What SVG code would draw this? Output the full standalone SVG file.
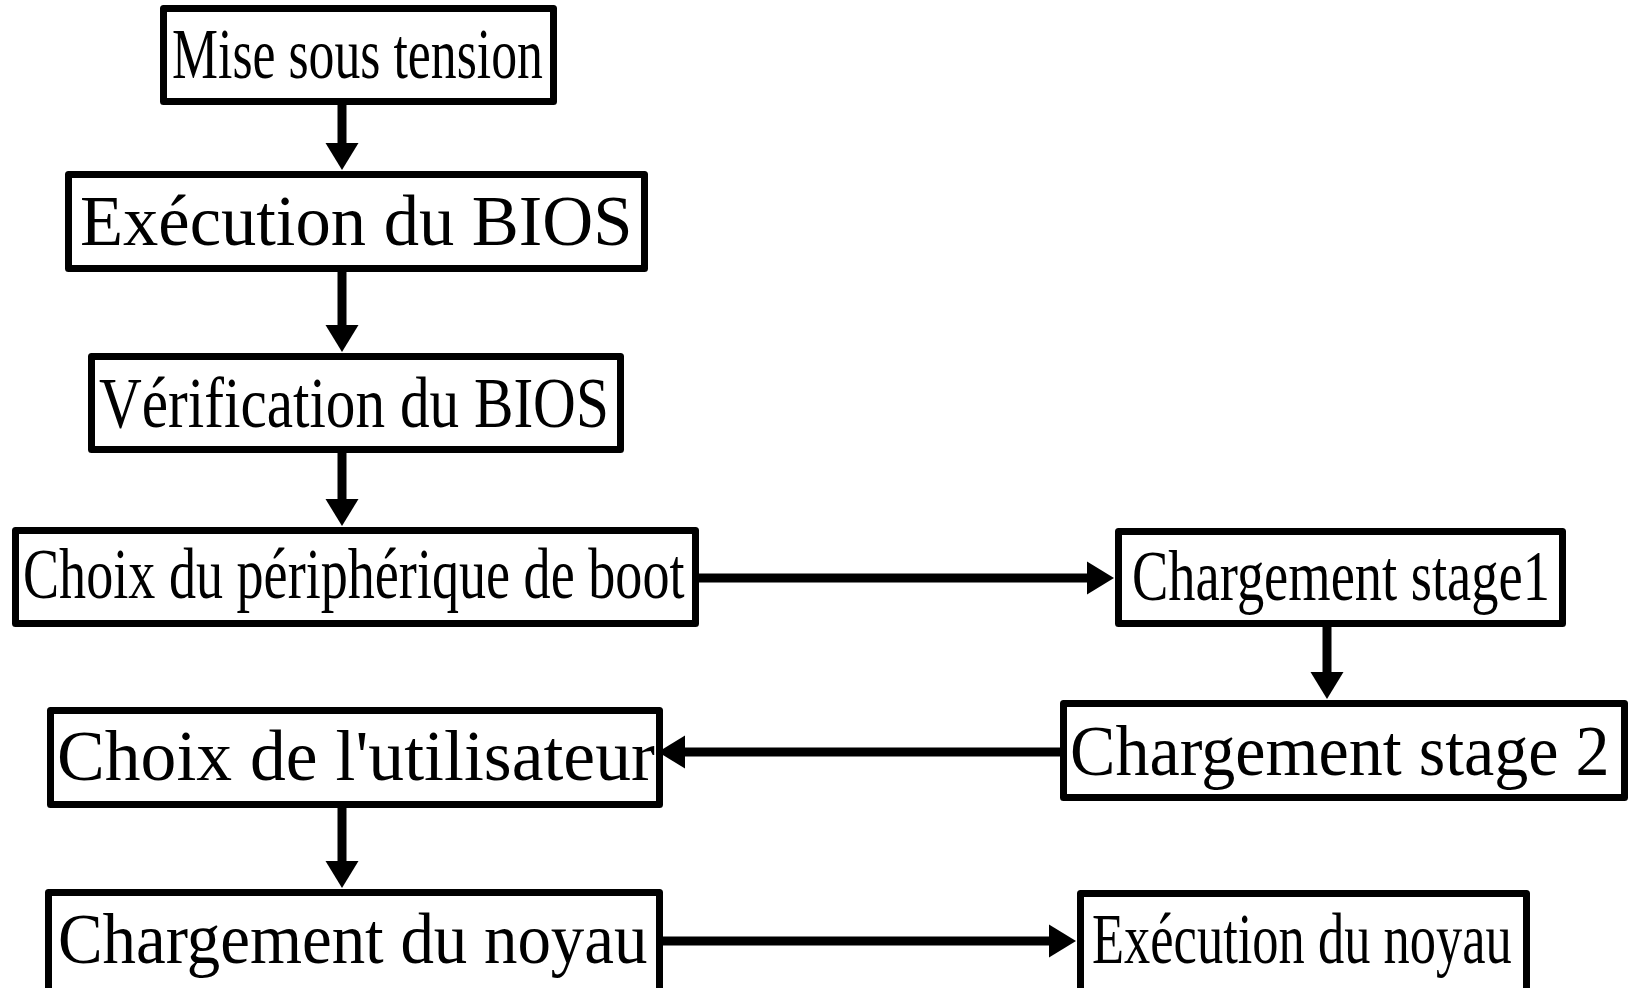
<svg xmlns="http://www.w3.org/2000/svg" width="1632" height="988" viewBox="0 0 1632 988">
  <style>
    .box { fill: #ffffff; stroke: #000000; stroke-width: 7; stroke-linejoin: round; }
    .lbl { font-family: "Liberation Serif", "Times New Roman", serif; font-size: 72px; fill: #000000; }
    .link { stroke: #000000; stroke-width: 9; fill: none; marker-end: url(#head); }
  </style>
  <defs>
    <marker id="head" markerUnits="userSpaceOnUse" markerWidth="28" markerHeight="34" refX="1" refY="16.5" orient="auto" overflow="visible">
      <path d="M0,0 L27,16.5 L0,33 Z" fill="#000000"/>
    </marker>
  </defs>
  <rect width="1632" height="988" fill="#ffffff"/>

  <g id="connectors">
    <line class="link" x1="342" y1="104" x2="342" y2="144"/>
    <line class="link" x1="342" y1="271" x2="342" y2="326"/>
    <line class="link" x1="342" y1="452" x2="342" y2="500"/>
    <line class="link" x1="698" y1="578" x2="1088" y2="578"/>
    <line class="link" x1="1327" y1="626" x2="1327" y2="673"/>
    <line class="link" x1="1061" y1="752" x2="684" y2="752"/>
    <line class="link" x1="342" y1="806" x2="342" y2="862"/>
    <line class="link" x1="662" y1="941" x2="1050" y2="941"/>
  </g>

  <!-- labels are narrowed with a horizontal scale so each fits its frame -->
  <g id="mise-sous-tension">
    <rect class="box" x="163.5" y="8.5" width="390" height="93"/>
    <text class="lbl" transform="translate(172 78) scale(0.719 1)">Mise sous tension</text>
  </g>

  <g id="execution-bios">
    <rect class="box" x="68.5" y="174.5" width="576" height="94"/>
    <text class="lbl" transform="translate(80 245) scale(0.98 1)">Exécution du BIOS</text>
  </g>

  <g id="verification-bios">
    <rect class="box" x="91.5" y="356.5" width="529" height="93"/>
    <text class="lbl" transform="translate(99 427) scale(0.8227 1)">Vérification du BIOS</text>
  </g>

  <g id="choix-peripherique">
    <rect class="box" x="15.5" y="530.5" width="680" height="93"/>
    <text class="lbl" transform="translate(23 598) scale(0.752 1)">Choix du périphérique de boot</text>
  </g>

  <g id="chargement-stage1">
    <rect class="box" x="1118.5" y="531.5" width="444" height="92"/>
    <text class="lbl" transform="translate(1132 600) scale(0.7565 1)">Chargement stage1</text>
  </g>

  <g id="chargement-stage2">
    <rect class="box" x="1063.5" y="703.5" width="561" height="94"/>
    <text class="lbl" transform="translate(1070 775) scale(0.946 1)">Chargement stage 2</text>
  </g>

  <g id="choix-utilisateur">
    <rect class="box" x="50.5" y="710.5" width="609" height="94"/>
    <text class="lbl" transform="translate(57 780) scale(0.995 1)">Choix de l'utilisateur</text>
  </g>

  <g id="chargement-noyau">
    <rect class="box" x="48.5" y="892.5" width="611" height="102"/>
    <text class="lbl" transform="translate(58 963) scale(0.929 1)">Chargement du noyau</text>
  </g>

  <g id="execution-noyau">
    <rect class="box" x="1080.5" y="893.5" width="446" height="101"/>
    <text class="lbl" transform="translate(1092 963) scale(0.729 1)">Exécution du noyau</text>
  </g>
</svg>
